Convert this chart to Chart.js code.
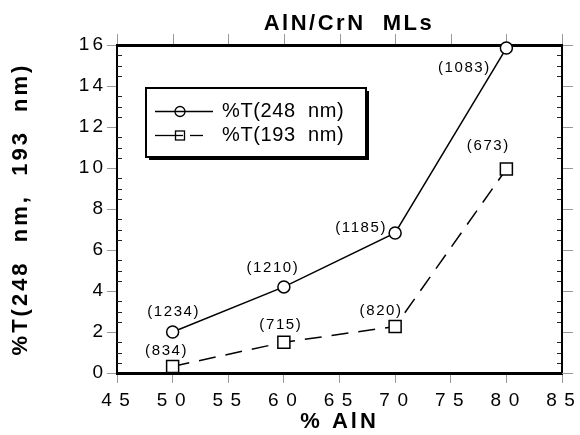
<!DOCTYPE html>
<html>
<head>
<meta charset="utf-8">
<script src="https://cdn.jsdelivr.net/npm/chart.js@4.4.1/dist/chart.umd.min.js"></script>
<style>
  html, body { margin: 0; padding: 0; background: #fff; }
</style>
</head>
<body>
<canvas id="chart" width="580" height="435"></canvas>
<script>
// % AlN in the multilayer
const alnPercent = [50, 60, 70, 80];
// transmission
const t248 = [2.0, 4.2, 6.83, 15.85];
const t193 = [0.32, 1.5, 2.27, 9.95];
// numbers in brackets printed next to each point
const labels248 = ['(1234)', '(1210)', '(1185)', '(1083)'];
const labels193 = ['(834)', '(715)', '(820)', '(673)'];
const seriesNames = ['%T(248  nm)', '%T(193  nm)'];

// where each bracket label sits relative to its point (px)
const offs248 = [[1, -20], [-11, -19], [-34, -5], [-42, 20]];
const offs193 = [[-6, -16], [-3, -17], [-14, -16], [-18, -23]];

const FONT = '"Liberation Sans", Arial, Helvetica, sans-serif';

const toPoints = (xs, ys) => xs.map((x, i) => ({ x: x, y: ys[i] }));

// top/right frame, outer ticks on top and right, small inner ticks on y
const framePlugin = {
  id: 'frame',
  beforeDraw(chart) {
    chart.ctx.letterSpacing = '3px';
  },
  beforeDatasetsDraw(chart) {
    const { ctx, chartArea: a, scales: { x, y } } = chart;
    ctx.save();
    ctx.strokeStyle = '#999';
    ctx.lineWidth = 1;
    x.ticks.forEach(t => {
      const px = Math.round(x.getPixelForValue(t.value)) + 0.5;
      ctx.beginPath(); ctx.moveTo(px, a.top - 11); ctx.lineTo(px, a.top); ctx.stroke();
    });
    y.ticks.forEach(t => {
      const py = Math.round(y.getPixelForValue(t.value)) + 0.5;
      ctx.beginPath(); ctx.moveTo(a.right, py); ctx.lineTo(a.right + 11, py); ctx.stroke();
    });
    ctx.strokeStyle = '#222';
    for (let v = 0.5; v < 16; v += 0.5) {
      if (v % 2 === 0) continue;
      const py = Math.round(y.getPixelForValue(v)) + 0.5;
      ctx.beginPath(); ctx.moveTo(a.left, py); ctx.lineTo(a.left + 5, py); ctx.stroke();
      ctx.beginPath(); ctx.moveTo(a.right - 5, py); ctx.lineTo(a.right, py); ctx.stroke();
    }
    ctx.strokeStyle = '#000';
    ctx.lineWidth = 3;
    ctx.beginPath(); ctx.moveTo(a.left - 1, a.top + 0.5); ctx.lineTo(a.right + 1, a.top + 0.5); ctx.stroke();
    ctx.lineWidth = 2;
    ctx.beginPath(); ctx.moveTo(a.right, a.top); ctx.lineTo(a.right, a.bottom); ctx.stroke();

    // main title
    ctx.letterSpacing = '2.5px';
    ctx.fillStyle = '#000';
    ctx.font = 'bold 22px ' + FONT;
    ctx.textAlign = 'center';
    ctx.textBaseline = 'middle';
    ctx.fillText('AlN/CrN  MLs', 349, 24);
    ctx.restore();
  },
  afterDatasetsDraw(chart) {
    const { ctx } = chart;
    ctx.save();
    ctx.letterSpacing = '1.6px';
    ctx.fillStyle = '#000';
    ctx.font = '15px ' + FONT;
    ctx.textAlign = 'center';
    ctx.textBaseline = 'middle';
    [[labels248, offs248], [labels193, offs193]].forEach(([lbls, offs], di) => {
      chart.getDatasetMeta(di).data.forEach((pt, i) => {
        ctx.fillText(lbls[i], pt.x + offs[i][0], pt.y + offs[i][1]);
      });
    });
    ctx.restore();
  },
  afterDraw(chart) {
    const { ctx } = chart;
    ctx.save();
    // legend box with shadow
    const bx = 146, by = 88, bw = 220, bh = 69;
    ctx.fillStyle = '#000';
    ctx.fillRect(bx + 3, by + 3, bw, bh);
    ctx.fillStyle = '#fff';
    ctx.fillRect(bx, by, bw, bh);
    ctx.strokeStyle = '#000';
    ctx.lineWidth = 2;
    ctx.strokeRect(bx, by, bw, bh);

    ctx.lineWidth = 1.3;
    // row 1: solid line through circle
    let ly = 111.5;
    ctx.beginPath(); ctx.moveTo(155, ly); ctx.lineTo(213, ly); ctx.stroke();
    ctx.beginPath(); ctx.arc(180, ly, 5, 0, Math.PI * 2); ctx.stroke();
    // row 2: solid lead-in, square, then one dash
    ly = 135.5;
    ctx.beginPath(); ctx.moveTo(155, ly); ctx.lineTo(183, ly); ctx.stroke();
    ctx.strokeRect(175.5, ly - 4.5, 9, 9);
    ctx.beginPath(); ctx.moveTo(190, ly); ctx.lineTo(203, ly); ctx.stroke();

    ctx.letterSpacing = '0.6px';
    ctx.fillStyle = '#000';
    ctx.font = '20px ' + FONT;
    ctx.textAlign = 'left';
    ctx.textBaseline = 'middle';
    ctx.fillText(seriesNames[0], 222, 111);
    ctx.fillText(seriesNames[1], 222, 135);
    ctx.restore();
  }
};

new Chart(document.getElementById('chart'), {
  type: 'line',
  data: {
    datasets: [
      {
        label: seriesNames[0],
        data: toPoints(alnPercent, t248),
        borderColor: '#000',
        borderWidth: 1.5,
        pointStyle: 'circle',
        pointRadius: 6,
        pointBorderWidth: 1.5,
        pointBackgroundColor: '#fff',
        pointBorderColor: '#000',
        tension: 0,
        clip: false
      },
      {
        label: seriesNames[1],
        data: toPoints(alnPercent, t193),
        borderColor: '#000',
        borderWidth: 1.5,
        borderDash: [17, 10],
        pointStyle: 'rect',
        pointRadius: 8.5,
        pointBorderWidth: 1.5,
        pointBackgroundColor: '#fff',
        pointBorderColor: '#000',
        tension: 0,
        clip: false
      }
    ]
  },
  options: {
    responsive: false,
    animation: false,
    devicePixelRatio: 1,
    layout: { padding: { top: 45, right: 18, left: 0, bottom: 0 } },
    plugins: {
      legend: { display: false },
      tooltip: { enabled: false }
    },
    scales: {
      x: {
        type: 'linear',
        min: 45,
        max: 85,
        afterFit: s => { s.height = 62; },
        ticks: {
          stepSize: 5,
          color: '#000',
          padding: 6,
          font: { family: FONT, size: 19 },
          callback: v => String(v).split('').join('\u200A')
        },
        grid: { drawOnChartArea: false, drawTicks: true, tickLength: 10, color: '#999' },
        border: { display: true, color: '#000', width: 3 },
        title: {
          display: true,
          text: '% AlN',
          color: '#000',
          font: { family: FONT, size: 22, weight: 'bold' },
          padding: { top: 0, bottom: 0 }
        }
      },
      y: {
        min: 0,
        max: 16,
        afterFit: s => { s.width = 117; },
        ticks: {
          stepSize: 2,
          color: '#000',
          padding: 1,
          font: { family: FONT, size: 19 }
        },
        grid: { drawOnChartArea: false, drawTicks: true, tickLength: 10, color: '#999' },
        border: { display: true, color: '#000', width: 2 },
        title: {
          display: true,
          text: '%T(248  nm,  193  nm)',
          color: '#000',
          font: { family: FONT, size: 22, weight: 'bold' },
          padding: { top: 8, bottom: 0 }
        }
      }
    }
  },
  plugins: [framePlugin]
});
</script>
</body>
</html>
